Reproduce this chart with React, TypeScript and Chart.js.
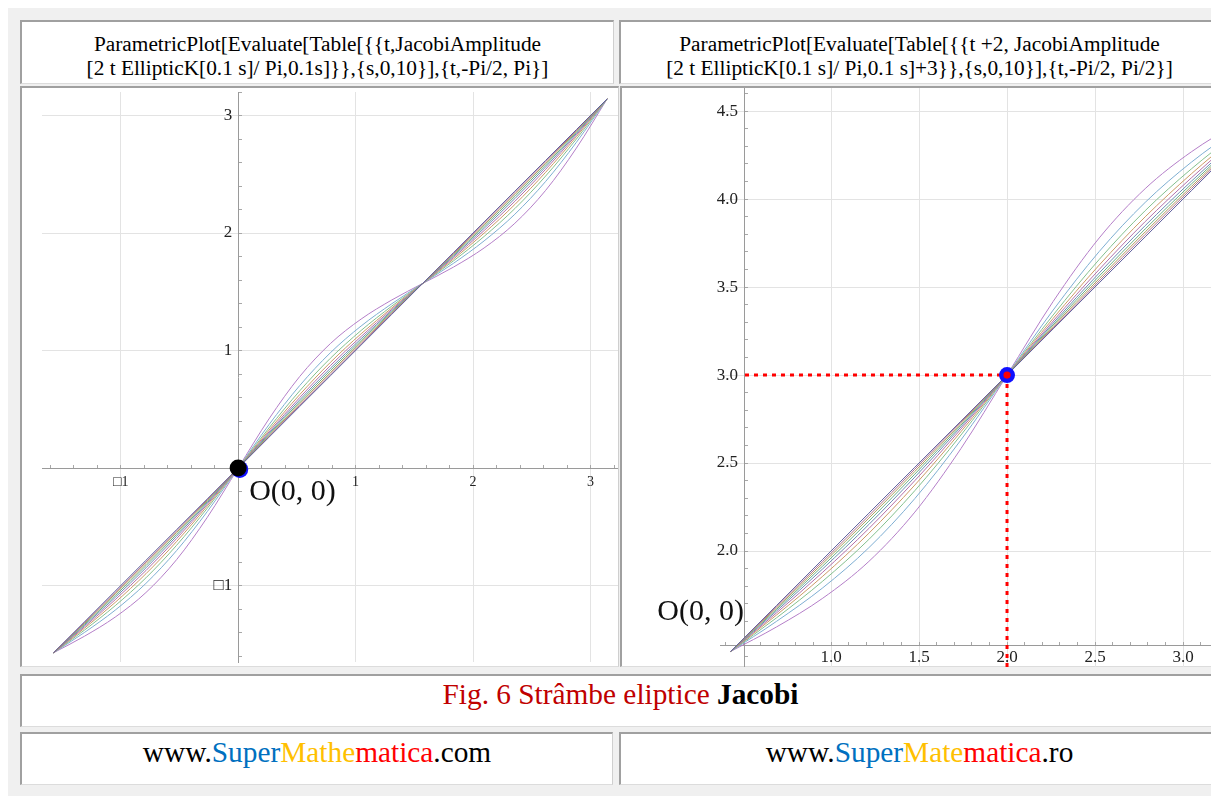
import React, { useEffect, useRef } from 'react';
import { Chart, registerables } from 'chart.js';

Chart.register(...registerables);

// ---------- DATA ----------
// curve parameter s (modulus m = 0.1 s); s = 10 gives no curve
const curveParamS = [0, 1, 2, 3, 4, 5, 6, 7, 8, 9];

// Left plot: t from -Pi/2 to Pi
const leftT = [-1.571, -1.309, -1.047, -0.785, -0.524, -0.262, 0, 0.262, 0.524, 0.785, 1.047, 1.309, 1.571, 1.833, 2.094, 2.356, 2.618, 2.88, 3.142];
const leftAmS0 = [-1.571, -1.309, -1.047, -0.785, -0.524, -0.262, 0, 0.262, 0.524, 0.785, 1.047, 1.309, 1.571, 1.833, 2.094, 2.356, 2.618, 2.88, 3.142];
const leftAmS1 = [-1.571, -1.316, -1.059, -0.799, -0.535, -0.268, 0, 0.268, 0.535, 0.799, 1.059, 1.316, 1.571, 1.826, 2.083, 2.343, 2.607, 2.873, 3.142];
const leftAmS2 = [-1.571, -1.323, -1.071, -0.813, -0.548, -0.276, 0, 0.276, 0.548, 0.813, 1.071, 1.323, 1.571, 1.819, 2.07, 2.328, 2.594, 2.866, 3.142];
const leftAmS3 = [-1.571, -1.331, -1.085, -0.83, -0.563, -0.285, 0, 0.285, 0.563, 0.83, 1.085, 1.331, 1.571, 1.811, 2.056, 2.312, 2.579, 2.857, 3.142];
const leftAmS4 = [-1.571, -1.34, -1.101, -0.849, -0.58, -0.295, 0, 0.295, 0.58, 0.849, 1.101, 1.34, 1.571, 1.802, 2.04, 2.293, 2.562, 2.847, 3.142];
const leftAmS5 = [-1.571, -1.351, -1.12, -0.872, -0.6, -0.307, 0, 0.307, 0.6, 0.872, 1.12, 1.351, 1.571, 1.791, 2.021, 2.27, 2.542, 2.835, 3.142];
const leftAmS6 = [-1.571, -1.363, -1.143, -0.899, -0.625, -0.322, 0, 0.322, 0.625, 0.899, 1.143, 1.363, 1.571, 1.778, 1.999, 2.243, 2.517, 2.82, 3.142];
const leftAmS7 = [-1.571, -1.379, -1.171, -0.934, -0.657, -0.341, 0, 0.341, 0.657, 0.934, 1.171, 1.379, 1.571, 1.763, 1.971, 2.208, 2.485, 2.8, 3.142];
const leftAmS8 = [-1.571, -1.399, -1.209, -0.981, -0.702, -0.369, 0, 0.369, 0.702, 0.981, 1.209, 1.399, 1.571, 1.742, 1.933, 2.16, 2.439, 2.772, 3.142];
const leftAmS9 = [-1.571, -1.431, -1.268, -1.059, -0.779, -0.418, 0, 0.418, 0.779, 1.059, 1.268, 1.431, 1.571, 1.71, 1.873, 2.083, 2.363, 2.723, 3.142];

// Right plot: x = t + 2, y = am + 3, t from -Pi/2 to Pi/2
const rightX = [0.429, 0.691, 0.953, 1.215, 1.476, 1.738, 2, 2.262, 2.524, 2.785, 3.047, 3.309, 3.571];
const rightAmS0 = [1.429, 1.691, 1.953, 2.215, 2.476, 2.738, 3, 3.262, 3.524, 3.785, 4.047, 4.309, 4.571];
const rightAmS1 = [1.429, 1.684, 1.941, 2.201, 2.465, 2.732, 3, 3.268, 3.535, 3.799, 4.059, 4.316, 4.571];
const rightAmS2 = [1.429, 1.677, 1.929, 2.187, 2.452, 2.724, 3, 3.276, 3.548, 3.813, 4.071, 4.323, 4.571];
const rightAmS3 = [1.429, 1.669, 1.915, 2.17, 2.437, 2.715, 3, 3.285, 3.563, 3.83, 4.085, 4.331, 4.571];
const rightAmS4 = [1.429, 1.66, 1.899, 2.151, 2.42, 2.705, 3, 3.295, 3.58, 3.849, 4.101, 4.34, 4.571];
const rightAmS5 = [1.429, 1.649, 1.88, 2.128, 2.4, 2.693, 3, 3.307, 3.6, 3.872, 4.12, 4.351, 4.571];
const rightAmS6 = [1.429, 1.637, 1.857, 2.101, 2.375, 2.678, 3, 3.322, 3.625, 3.899, 4.143, 4.363, 4.571];
const rightAmS7 = [1.429, 1.621, 1.829, 2.066, 2.343, 2.659, 3, 3.341, 3.657, 3.934, 4.171, 4.379, 4.571];
const rightAmS8 = [1.429, 1.601, 1.791, 2.019, 2.298, 2.631, 3, 3.369, 3.702, 3.981, 4.209, 4.399, 4.571];
const rightAmS9 = [1.429, 1.569, 1.732, 1.941, 2.221, 2.582, 3, 3.418, 3.779, 4.059, 4.268, 4.431, 4.571];

// marked points and guide lines
const leftOrigin = [0, 0];
const rightMarker = [2, 3];
const rightGuideH = [{ x: 0.511, y: 3 }, { x: 2, y: 3 }];
const rightGuideV = [{ x: 2, y: 3 }, { x: 2, y: 1.341 }];
const originLabel = 'O(0, 0)';

// tick labels
const leftXTickValues = [-1, 1, 2, 3];
const leftXTickLabels = ['\u25A11', '1', '2', '3'];
const leftYTickValues = [-1, 1, 2, 3];
const leftYTickLabels = ['\u25A11', '1', '2', '3'];
const rightXTickValues = [1, 1.5, 2, 2.5, 3];
const rightXTickLabels = ['1.0', '1.5', '2.0', '2.5', '3.0'];
const rightYTickValues = [2, 2.5, 3, 3.5, 4, 4.5];
const rightYTickLabels = ['2.0', '2.5', '3.0', '3.5', '4.0', '4.5'];

// texts
const headerLeftLines = ['ParametricPlot[Evaluate[Table[{{t,JacobiAmplitude', '[2 t EllipticK[0.1 s]/ Pi,0.1s]}},{s,0,10}],{t,-Pi/2, Pi}]'];
const headerRightLines = ['ParametricPlot[Evaluate[Table[{{t +2, JacobiAmplitude', '[2 t EllipticK[0.1 s]/ Pi,0.1 s]+3}},{s,0,10}],{t,-Pi/2, Pi/2}]'];

// ---------- STYLE ----------
const curveColors = ['#60609e', '#b0708e', '#b0a05e', '#6aae86', '#6c8cb4', '#b470aa', '#cc9a66', '#84c08e', '#7eaed2', '#b47ec8'];
const SERIF = '"Liberation Serif", "Times New Roman", serif';
const GRID = '#e3e3e3';
const AXIS = '#9a9a9a';
const TICK = '#a8a8a8';
const CLEAR = 'rgba(0,0,0,0)';

const near = (a: number, b: number) => Math.abs(a - b) < 1e-6;
const labelFor = (values: number[], labels: string[]) => (v: any) => {
  const n = Number(v);
  const i = values.findIndex((t) => near(t, n));
  return i >= 0 ? labels[i] : '';
};
const gridFor = (values: number[]) => (c: any) =>
  c.tick && values.some((t) => near(t, c.tick.value)) ? GRID : CLEAR;
const zeroPadding = (scale: any) => {
  scale.paddingLeft = 0;
  scale.paddingRight = 0;
  scale.paddingTop = 0;
  scale.paddingBottom = 0;
};
// move the y tick labels of an axis placed inside the plot away from the axis line
const shiftYLabels = (dx: number) => ({
  id: 'shiftYLabels',
  beforeDraw(chart: any) {
    const s = chart.scales.y;
    const items = s.getLabelItems(chart.chartArea);
    items.forEach((it: any) => {
      if (!it._shifted) {
        it.options.translation[0] += dx;
        it._shifted = true;
      }
    });
  },
});

function curveDatasets(xs: number[], ys: number[][]) {
  return ys.map((arr, i) => ({
    label: 's = ' + curveParamS[i],
    data: arr.map((y, j) => ({ x: xs[j], y })),
    borderColor: curveColors[i],
    backgroundColor: curveColors[i],
    borderWidth: 1,
    showLine: true,
    pointRadius: 0,
    cubicInterpolationMode: 'monotone' as const,
    fill: false,
  }));
}

function LeftChart() {
  const ref = useRef<HTMLCanvasElement>(null);
  useEffect(() => {
    const marks = {
      id: 'leftMarks',
      afterDatasetsDraw(chart: any) {
        const { ctx, scales } = chart;
        const px = scales.x.getPixelForValue(leftOrigin[0]);
        const py = scales.y.getPixelForValue(leftOrigin[1]);
        ctx.save();
        ctx.fillStyle = '#1010ff';
        ctx.beginPath();
        ctx.arc(px + 1.6, py + 1.3, 8.5, 0, Math.PI * 2);
        ctx.fill();
        ctx.fillStyle = '#000';
        ctx.beginPath();
        ctx.arc(px, py, 8.5, 0, Math.PI * 2);
        ctx.fill();
        ctx.font = '30px ' + SERIF;
        ctx.fillStyle = '#111';
        ctx.textAlign = 'left';
        ctx.textBaseline = 'alphabetic';
        ctx.fillText(originLabel, px + 11, py + 32);
        ctx.restore();
      },
    };
    const chart = new Chart(ref.current as HTMLCanvasElement, {
      type: 'scatter',
      data: {
        datasets: curveDatasets(leftT, [leftAmS0, leftAmS1, leftAmS2, leftAmS3, leftAmS4, leftAmS5, leftAmS6, leftAmS7, leftAmS8, leftAmS9]) as any,
      },
      options: {
        animation: false,
        responsive: false,
        maintainAspectRatio: false,
        devicePixelRatio: 1,
        layout: { padding: { left: 18, right: 0, top: 3, bottom: 4 } },
        plugins: { legend: { display: false }, tooltip: { enabled: false } },
        scales: {
          x: {
            type: 'linear',
            position: { y: 0 } as any,
            min: -1.67,
            max: 3.234,
            afterFit: zeroPadding,
            border: { display: true, color: AXIS, width: 1 },
            grid: {
              color: gridFor(leftXTickValues),
              tickColor: (c: any) => (c.tick && near(c.tick.value, 0) ? CLEAR : TICK),
              tickLength: -4,
              lineWidth: 1,
            },
            ticks: {
              stepSize: 0.2,
              includeBounds: false,
              autoSkip: false,
              maxRotation: 0,
              padding: 10,
              color: '#222',
              font: { family: SERIF, size: 14 },
              callback: labelFor(leftXTickValues, leftXTickLabels),
            },
          },
          y: {
            type: 'linear',
            position: { x: 0 } as any,
            min: -1.65,
            max: 3.2,
            afterFit: zeroPadding,
            border: { display: true, color: AXIS, width: 1 },
            grid: {
              color: gridFor(leftYTickValues),
              tickColor: (c: any) => (c.tick && near(c.tick.value, 0) ? CLEAR : TICK),
              tickLength: -4,
              lineWidth: 1,
            },
            ticks: {
              stepSize: 0.2,
              includeBounds: false,
              autoSkip: false,
              padding: 6,
              color: '#222',
              font: { family: SERIF, size: 17 },
              callback: labelFor(leftYTickValues, leftYTickLabels),
            },
          },
        },
      },
      plugins: [shiftYLabels(-6), marks],
    });
    return () => chart.destroy();
  }, []);
  return <canvas ref={ref} width={594} height={577} style={{ position: 'absolute', left: 24, top: 89, width: 594, height: 577 }} />;
}

function RightChart() {
  const ref = useRef<HTMLCanvasElement>(null);
  useEffect(() => {
    const marks = {
      id: 'rightMarks',
      afterDatasetsDraw(chart: any) {
        const { ctx, scales } = chart;
        const px = scales.x.getPixelForValue(rightMarker[0]);
        const py = scales.y.getPixelForValue(rightMarker[1]);
        ctx.save();
        ctx.fillStyle = '#1010ff';
        ctx.beginPath();
        ctx.arc(px, py, 8, 0, Math.PI * 2);
        ctx.fill();
        ctx.fillStyle = '#ff0000';
        ctx.beginPath();
        ctx.arc(px, py, 3.6, 0, Math.PI * 2);
        ctx.fill();
        const ax = scales.x.getPixelForValue(rightGuideH[0].x);
        const ay = scales.y.getPixelForValue(1.466);
        ctx.font = '30px ' + SERIF;
        ctx.fillStyle = '#111';
        ctx.textAlign = 'right';
        ctx.textBaseline = 'alphabetic';
        ctx.fillText(originLabel, ax - 1, ay - 25);
        ctx.restore();
      },
    };
    const guides = [rightGuideH, rightGuideV].map((pts, i) => ({
      label: i === 0 ? 'guide y' : 'guide x',
      data: pts,
      borderColor: '#ff0000',
      borderWidth: 3,
      borderDash: [4, 5],
      showLine: true,
      pointRadius: 0,
      fill: false,
    }));
    const chart = new Chart(ref.current as HTMLCanvasElement, {
      type: 'scatter',
      data: {
        datasets: [
          ...guides,
          ...curveDatasets(rightX, [rightAmS0, rightAmS1, rightAmS2, rightAmS3, rightAmS4, rightAmS5, rightAmS6, rightAmS7, rightAmS8, rightAmS9]),
        ] as any,
      },
      options: {
        animation: false,
        responsive: false,
        maintainAspectRatio: false,
        devicePixelRatio: 1,
        layout: { padding: { left: 99, right: 0, top: 0, bottom: 0 } },
        plugins: { legend: { display: false }, tooltip: { enabled: false } },
        scales: {
          x: {
            type: 'linear',
            position: { y: 1.466 } as any,
            min: 0.369,
            max: 3.159,
            afterFit: zeroPadding,
            border: { display: true, color: AXIS, width: 1 },
            grid: { color: gridFor(rightXTickValues), tickColor: TICK, tickLength: -4, lineWidth: 1 },
            ticks: {
              stepSize: 0.1,
              includeBounds: false,
              autoSkip: false,
              maxRotation: 0,
              padding: 6,
              color: '#222',
              font: { family: SERIF, size: 17 },
              callback: labelFor(rightXTickValues, rightXTickLabels),
            },
          },
          y: {
            type: 'linear',
            position: { x: 0.511 } as any,
            min: 1.341,
            max: 4.631,
            afterFit: zeroPadding,
            border: { display: true, color: AXIS, width: 1 },
            grid: { color: gridFor(rightYTickValues), tickColor: TICK, tickLength: -4, lineWidth: 1 },
            ticks: {
              stepSize: 0.1,
              includeBounds: false,
              autoSkip: false,
              padding: 6,
              color: '#222',
              font: { family: SERIF, size: 17 },
              callback: labelFor(rightYTickValues, rightYTickLabels),
            },
          },
        },
      },
      plugins: [shiftYLabels(-7), marks],
    });
    return () => chart.destroy();
  }, []);
  return <canvas ref={ref} width={590} height={579} style={{ position: 'absolute', left: 621, top: 88, width: 590, height: 579 }} />;
}

const cell = (left: number, top: number, width: number, height: number, extra: any = {}) => ({
  position: 'absolute' as const,
  left,
  top,
  width,
  height,
  boxSizing: 'border-box' as const,
  background: '#fff',
  borderTop: '2px solid #a0a0a0',
  borderLeft: '2px solid #a0a0a0',
  borderRight: '1px solid #cfcfcf',
  borderBottom: '1px solid #dcdcdc',
  ...extra,
});

const headerText = { textAlign: 'center' as const, fontSize: 21.33, lineHeight: '24px', paddingTop: 10, whiteSpace: 'nowrap' as const, color: '#000', overflow: 'hidden' };
const bigText = { textAlign: 'center' as const, fontSize: 29.33, lineHeight: '34px', paddingTop: 1, whiteSpace: 'nowrap' as const, color: '#000' };

export default function App() {
  return (
    <div style={{ position: 'absolute', left: 0, top: 0, width: 1211, height: 796, overflow: 'hidden', background: '#fff', fontFamily: SERIF }}>
      <div style={{ position: 'absolute', left: 8, top: 8, width: 1203, height: 788, background: '#f0f0f0' }} />
      <div style={cell(20, 20, 594, 64, headerText)}>
        {headerLeftLines[0]}
        <br />
        {headerLeftLines[1]}
      </div>
      <div style={cell(619, 20, 600, 64, headerText)}>
        {headerRightLines[0]}
        <br />
        {headerRightLines[1]}
      </div>
      <div style={cell(20, 86, 599, 581)} />
      <div style={cell(620, 86, 600, 581)} />
      <LeftChart />
      <RightChart />
      <div style={cell(20, 674, 1200, 53, bigText)}>
        <span style={{ color: '#c00000' }}>Fig. 6 Strâmbe eliptice </span>
        <b>Jacobi</b>
      </div>
      <div style={cell(20, 732, 593, 53, bigText)}>
        www.<span style={{ color: '#0070c0' }}>Super</span>
        <span style={{ color: '#ffc000' }}>Mathe</span>
        <span style={{ color: '#ff0000' }}>matica</span>.com
      </div>
      <div style={cell(619, 732, 600, 53, bigText)}>
        www.<span style={{ color: '#0070c0' }}>Super</span>
        <span style={{ color: '#ffc000' }}>Mate</span>
        <span style={{ color: '#ff0000' }}>matica</span>.ro
      </div>
    </div>
  );
}
